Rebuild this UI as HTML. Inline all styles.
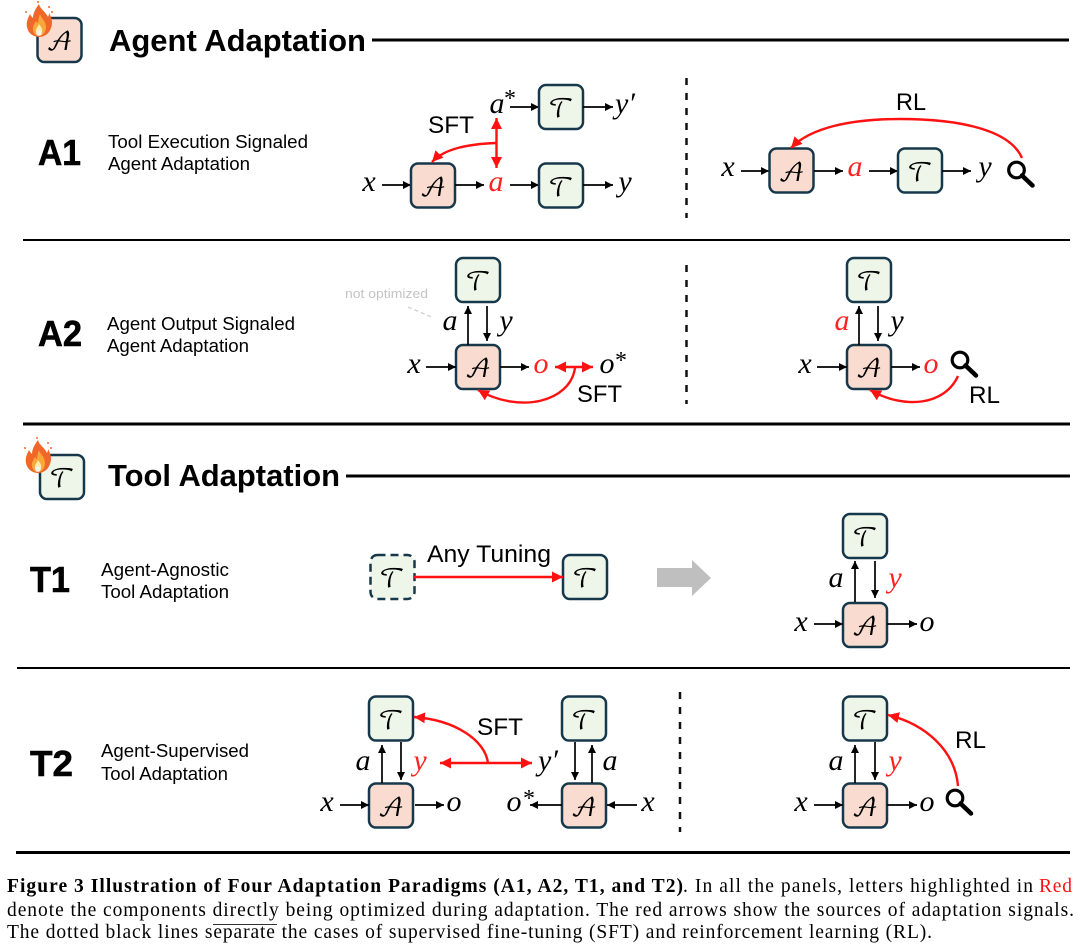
<!DOCTYPE html>
<html><head><meta charset="utf-8"><style>
html,body{margin:0;padding:0;background:#fff}
svg{display:block}
text{font-family:"Liberation Sans",sans-serif;fill:#000}
.m{font-family:"Liberation Serif",serif;font-style:italic;font-size:30px;text-anchor:middle}
.r{fill:#f22}
.c{font-family:"DejaVu Math TeX Gyre","Noto Sans Math","Liberation Serif",serif;font-size:25px;text-anchor:middle}
.h{font-weight:bold;font-size:31px}
.l{font-weight:bold;font-size:36px;stroke:#000;stroke-width:.6}
.d{font-size:18px}
.s{font-size:24px}
.cap{font-family:"Liberation Serif",serif;font-size:19.500px}
.b{font-weight:bold}
.a{stroke:#000;stroke-width:1.7;fill:none;marker-end:url(#k)}
.ar{stroke:#f11;stroke-width:2.4;fill:none;marker-end:url(#e)}
.ab{stroke:#f11;stroke-width:2.4;fill:none;marker-end:url(#e);marker-start:url(#e)}
.dash{stroke:#111;stroke-width:2.5;stroke-dasharray:7 8;fill:none}
.bx{stroke:#17384a;stroke-width:2.5}
</style></head><body>
<svg width="1080" height="952" viewBox="0 0 1080 952" xmlns="http://www.w3.org/2000/svg">
<defs>
<marker id="k" markerUnits="userSpaceOnUse" markerWidth="9" markerHeight="9" refX="8" refY="4.5" orient="auto-start-reverse"><path d="M0 .5L8 4.5L0 8.5z" fill="#000"/></marker>
<marker id="e" markerUnits="userSpaceOnUse" markerWidth="12" markerHeight="12" refX="11" refY="6" orient="auto-start-reverse"><path d="M0 .5L11 6L0 11.5z" fill="#f11"/></marker>
<rect id="A" width="44" height="44" rx="7" fill="#f9dccf" class="bx"/>
<rect id="T" width="44" height="44" rx="7" fill="#eef6ea" class="bx"/>
<g id="mag" fill="none" stroke="#000"><circle cx="0" cy="0" r="7.800" stroke-width="3.200"/><path d="M5.500 5.500L16 15.500" stroke-width="4.500" stroke-linecap="round"/></g>
<g id="fire"><path d="M13 0C14 5 20 8 22 13C23 11 23 10 23 9C26 14 27 19 25 24C23 30 18 33 13 33C7 33 2 29 1 23C0 18 2 14 4 10C5 12 6 13 7 14C7 9 10 4 13 0z" fill="#f0672a"/><path d="M14 10C15 14 20 17 20 23C20 29 16 32 13 32C9 32 6 28 7 23C8 20 9 19 10 17C11 18 11 19 12 19C12 16 13 13 14 10z" fill="#f9a63a"/><path d="M13 20C15 23 17 25 16 28C15 31 11 31 10 28C9 25 12 23 13 20z" fill="#fde9a8"/><circle cx="13" cy="29" r="2.800" fill="#f4f2ea"/><circle cx="12" cy="-2" r="1" fill="#f0672a"/><circle cx="23" cy="3" r="1" fill="#f0672a"/><circle cx="0" cy="8" r="1" fill="#f0672a"/><circle cx="26" cy="8" r="1" fill="#f0672a"/></g>
</defs>

<!-- headers -->
<use href="#A" x="37.500" y="18"/><text class="c" x="59.500" y="50">𝒜</text><use href="#fire" x="26" y="4"/>
<text class="h" x="109" y="51" textLength="257" lengthAdjust="spacingAndGlyphs">Agent Adaptation</text>
<line x1="372" y1="40" x2="1069" y2="40" stroke="#000" stroke-width="3"/>
<use href="#T" x="40" y="455"/><text class="c" x="62" y="487">𝒯</text><use href="#fire" x="25" y="440"/>
<text class="h" x="108" y="486" textLength="232" lengthAdjust="spacingAndGlyphs">Tool Adaptation</text>
<line x1="346" y1="476" x2="1070" y2="476" stroke="#000" stroke-width="3"/>

<!-- separators -->
<line x1="23" y1="240" x2="1070" y2="240" stroke="#000" stroke-width="2"/>
<line x1="23" y1="424" x2="1070" y2="424" stroke="#000" stroke-width="3"/>
<line x1="17" y1="668" x2="1070" y2="668" stroke="#000" stroke-width="2"/>
<line x1="16" y1="852.500" x2="1070" y2="852.500" stroke="#000" stroke-width="3"/>

<!-- A1 -->
<text class="l" x="38" y="165" textLength="43" lengthAdjust="spacingAndGlyphs">A1</text>
<text class="d" x="108" y="148" textLength="200" lengthAdjust="spacingAndGlyphs">Tool Execution Signaled</text>
<text class="d" x="108" y="170" textLength="142" lengthAdjust="spacingAndGlyphs">Agent Adaptation</text>
<text class="m" x="369" y="191">x</text><path class="a" d="M382 185H411"/>
<use href="#A" x="411" y="163.500"/><text class="c" x="433" y="196">𝒜</text>
<path class="a" d="M455 185H484"/><text class="m r" x="496" y="191">a</text>
<path class="a" d="M510 185H539"/><use href="#T" x="539" y="163.500"/><text class="c" x="561" y="196">𝒯</text>
<path class="a" d="M583 185H613"/><text class="m" x="625" y="191">y</text>
<text class="m" x="497" y="113">a</text><text class="m" x="510" y="106" style="font-size:24px;font-style:normal">*</text>
<path class="a" d="M510 107H539"/><use href="#T" x="539" y="85"/><text class="c" x="561" y="117">𝒯</text>
<path class="a" d="M583 107H613"/><text class="m" x="625" y="113">y′</text>
<path class="ab" d="M496.500 118V168"/>
<path class="ar" d="M496 143C470 144 445 148 432 162"/>
<text class="s" x="428" y="133" textLength="46" lengthAdjust="spacingAndGlyphs">SFT</text>
<line class="dash" x1="686.500" y1="78" x2="686.500" y2="218"/>
<text class="m" x="728" y="176">x</text><path class="a" d="M741 171H769"/>
<use href="#A" x="769.500" y="148.500"/><text class="c" x="791.500" y="181">𝒜</text>
<path class="a" d="M814 171H843"/><text class="m r" x="855" y="176">a</text>
<path class="a" d="M869 171H898"/><use href="#T" x="898" y="148.500"/><text class="c" x="920" y="181">𝒯</text>
<path class="a" d="M942 171H971"/><text class="m" x="985" y="176">y</text>
<use href="#mag" x="1016.500" y="170"/>
<path class="ar" d="M1022 158C1010 130 960 119 900 119C850 119 810 128 791 148"/>
<text class="s" x="896" y="110" textLength="30" lengthAdjust="spacingAndGlyphs">RL</text>

<!-- A2 -->
<text class="l" x="38" y="346" textLength="44" lengthAdjust="spacingAndGlyphs">A2</text>
<text class="d" x="107" y="330" textLength="188" lengthAdjust="spacingAndGlyphs">Agent Output Signaled</text>
<text class="d" x="107" y="352" textLength="142" lengthAdjust="spacingAndGlyphs">Agent Adaptation</text>
<use href="#T" x="456" y="258"/><text class="c" x="478" y="290">𝒯</text>
<use href="#A" x="456" y="345"/><text class="c" x="478" y="377">𝒜</text>
<path class="a" d="M468 345V306"/><path class="a" d="M487 306V341"/>
<text class="m" x="450" y="330">a</text><text class="m" x="506" y="330">y</text>
<text class="m" x="414" y="373">x</text><path class="a" d="M426 367H456"/>
<path class="a" d="M500 367H529"/><text class="m r" x="541" y="373">o</text>
<text class="m" x="607" y="373">o</text><text class="m" x="621" y="368" style="font-size:24px;font-style:normal">*</text>
<path class="ab" d="M555 367H593"/>
<path class="ar" d="M575 368C570 402 520 414 478 390"/>
<text class="s" x="577" y="402" textLength="45" lengthAdjust="spacingAndGlyphs">SFT</text>
<text x="345" y="298" font-size="13" style="fill:#c4c4c4" textLength="83" lengthAdjust="spacingAndGlyphs">not optimized</text>
<path d="M408 307L434 318" stroke="#ccc" stroke-width="1.200" stroke-dasharray="4 3" fill="none"/>
<line class="dash" x1="686.500" y1="265" x2="686.500" y2="404"/>
<use href="#T" x="847" y="258"/><text class="c" x="869" y="290">𝒯</text>
<use href="#A" x="847" y="345"/><text class="c" x="869" y="377">𝒜</text>
<path class="a" d="M859 345V306"/><path class="a" d="M878 306V341"/>
<text class="m r" x="842" y="330">a</text><text class="m" x="897" y="330">y</text>
<text class="m" x="805" y="373">x</text><path class="a" d="M817 367H847"/>
<path class="a" d="M891 367H920"/><text class="m r" x="931" y="373">o</text>
<use href="#mag" x="960" y="360"/>
<path class="ar" d="M958 376C945 405 905 410 870 390"/>
<text class="s" x="969" y="403" textLength="31" lengthAdjust="spacingAndGlyphs">RL</text>

<!-- T1 -->
<text class="l" x="30" y="592" textLength="40" lengthAdjust="spacingAndGlyphs">T1</text>
<text class="d" x="101" y="576" textLength="128" lengthAdjust="spacingAndGlyphs">Agent-Agnostic</text>
<text class="d" x="101" y="598" textLength="128" lengthAdjust="spacingAndGlyphs">Tool Adaptation</text>
<rect x="370.500" y="555" width="44" height="44" rx="7" fill="#eef6ea" stroke="#17384a" stroke-width="2.500" stroke-dasharray="8 5"/>
<text class="c" x="392" y="587">𝒯</text>
<use href="#T" x="563" y="555"/><text class="c" x="585" y="587">𝒯</text>
<path class="ar" d="M414 577H563"/>
<text class="s" x="427" y="562" textLength="124" lengthAdjust="spacingAndGlyphs">Any Tuning</text>
<path d="M657 568H692V560L711 578L692 596V587H657z" fill="#bfbfbf"/>
<use href="#T" x="843" y="514"/><text class="c" x="865" y="546">𝒯</text>
<use href="#A" x="843" y="603"/><text class="c" x="865" y="635">𝒜</text>
<path class="a" d="M855 602V561"/><path class="a" d="M875 561V598"/>
<text class="m" x="836" y="587">a</text><text class="m r" x="895" y="587">y</text>
<text class="m" x="801" y="631">x</text><path class="a" d="M814 624H843"/>
<path class="a" d="M887 624H917"/><text class="m" x="927" y="631">o</text>

<!-- T2 -->
<text class="l" x="30" y="776" textLength="43" lengthAdjust="spacingAndGlyphs">T2</text>
<text class="d" x="101" y="757" textLength="148" lengthAdjust="spacingAndGlyphs">Agent-Supervised</text>
<text class="d" x="101" y="780" textLength="127" lengthAdjust="spacingAndGlyphs">Tool Adaptation</text>
<use href="#T" x="369" y="696.500"/><text class="c" x="391" y="729">𝒯</text>
<use href="#A" x="369" y="783.500"/><text class="c" x="391" y="816">𝒜</text>
<path class="a" d="M382 783V745"/><path class="a" d="M401 742V780"/>
<text class="m" x="363" y="770">a</text><text class="m r" x="420" y="770">y</text>
<text class="m" x="327" y="811">x</text><path class="a" d="M340 805H369"/>
<path class="a" d="M415 805H444"/><text class="m" x="454" y="811">o</text>
<path class="ab" d="M440 763H532"/>
<path class="ar" d="M488 763C485 740 455 720 414 717"/>
<text class="s" x="477" y="735" textLength="46" lengthAdjust="spacingAndGlyphs">SFT</text>
<use href="#T" x="562" y="696.500"/><text class="c" x="584" y="729">𝒯</text>
<use href="#A" x="562" y="783.500"/><text class="c" x="584" y="816">𝒜</text>
<path class="a" d="M575 742V780"/><path class="a" d="M592 783V745"/>
<text class="m" x="548" y="770">y′</text><text class="m" x="610" y="770">a</text>
<text class="m" x="514" y="811">o</text><text class="m" x="529" y="806" style="font-size:24px;font-style:normal">*</text>
<path class="a" d="M562 805H530"/><path class="a" d="M637 805H607"/><text class="m" x="648" y="811">x</text>
<line class="dash" x1="680" y1="692" x2="680" y2="832"/>
<use href="#T" x="843" y="696.500"/><text class="c" x="865" y="729">𝒯</text>
<use href="#A" x="843" y="783.500"/><text class="c" x="865" y="816">𝒜</text>
<path class="a" d="M855 783V745"/><path class="a" d="M875 742V780"/>
<text class="m" x="836" y="770">a</text><text class="m r" x="895" y="770">y</text>
<text class="m" x="801" y="811">x</text><path class="a" d="M814 805H843"/>
<path class="a" d="M887 805H917"/><text class="m" x="927" y="811">o</text>
<use href="#mag" x="955" y="798"/>
<path class="ar" d="M958 786C955 750 925 724 888 715"/>
<text class="s" x="955" y="748" textLength="31" lengthAdjust="spacingAndGlyphs">RL</text>

<!-- caption -->
<text class="cap b" x="7" y="892" textLength="676" lengthAdjust="spacing">Figure 3  Illustration of Four Adaptation Paradigms (A1, A2, T1, and T2)</text>
<text class="cap" x="683" y="892" textLength="350" lengthAdjust="spacing">.  In all the panels, letters highlighted in</text>
<text class="cap" x="1039" y="892" textLength="33" style="fill:#f11">Red</text>
<text class="cap" x="7" y="916" textLength="1067" lengthAdjust="spacing">denote the components directly being optimized during adaptation.  The red arrows show the sources of adaptation signals.</text>
<text class="cap" x="7" y="938" textLength="925" lengthAdjust="spacing">The dotted black lines separate the cases of supervised fine-tuning (SFT) and reinforcement learning (RL).</text>
<line x1="213" y1="924.500" x2="277" y2="924.500" stroke="#333" stroke-width="1"/>
</svg>
</body></html>
